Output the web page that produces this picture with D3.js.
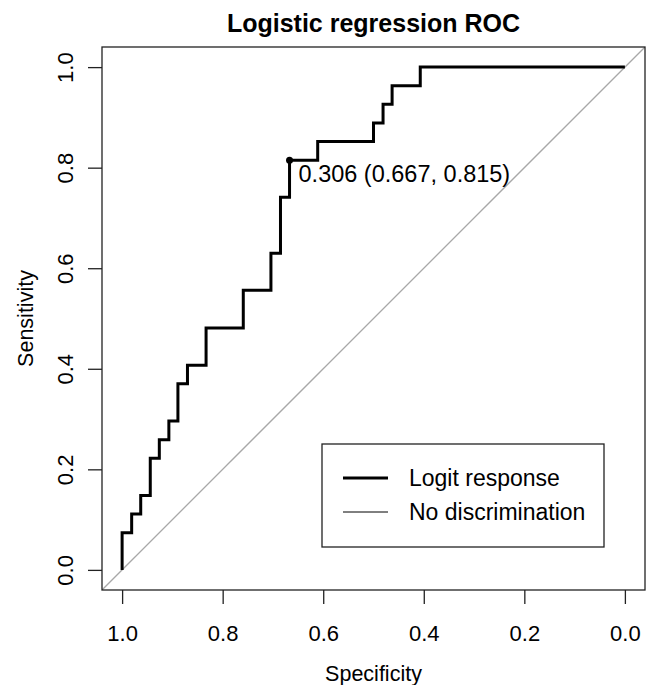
<!DOCTYPE html>
<html>
<head>
<meta charset="utf-8">
<script src="https://cdn.jsdelivr.net/npm/d3@7"></script>
<style>
  body { margin: 0; background: #fff; }
  text { font-family: "Liberation Sans", Arial, Helvetica, sans-serif; fill: #000; }
</style>
</head>
<body>
<div id="chart"></div>
<script>
// ROC step corners (specificity, sensitivity)
const specificity = [1, 1, 0.981, 0.963, 0.944, 0.926, 0.907, 0.889, 0.870, 0.833, 0.759, 0.704, 0.685, 0.667, 0.611, 0.500, 0.481, 0.463, 0.407, 0]
const sensitivity = [0, 0.074, 0.111, 0.148, 0.222, 0.259, 0.296, 0.370, 0.407, 0.481, 0.556, 0.630, 0.741, 0.815, 0.852, 0.889, 0.926, 0.963, 1.0, 1.0]

const ticks = [1.0, 0.8, 0.6, 0.4, 0.2, 0.0]
const bestPoint = {threshold: 0.306, spec: 0.667, sens: 0.815}
const legendLabels = ['Logit response', 'No discrimination']

let width = 650
let height = 685

// box drawn with R-style 4% extension
let box = {left: 102, right: 645, top: 47, bottom: 590}

let x = d3.scaleLinear()
	.domain([1.04, -0.04])
	.range([box.left, box.right])

let y = d3.scaleLinear()
	.domain([-0.04, 1.04])
	.range([box.bottom, box.top])

const svg = d3.select('#chart')
	.append('svg')
	.attr('width', width)
	.attr('height', height)

// no discrimination diagonal, clipped to the box
svg.append('clipPath')
	.attr('id', 'clip')
	.append('rect')
	.attr('x', box.left)
	.attr('y', box.top)
	.attr('width', box.right - box.left)
	.attr('height', box.bottom - box.top)

svg.append('line')
	.attr('clip-path', 'url(#clip)')
	.attr('x1', x(1.04)).attr('y1', y(-0.04))
	.attr('x2', x(-0.04)).attr('y2', y(1.04))
	.attr('stroke', '#a8a8a8')
	.attr('stroke-width', 1.3)

let rocData = specificity.map((s, i) => ({spec: s, sens: sensitivity[i]}))

let line = d3.line()
	.x(d => x(d.spec))
	.y(d => y(d.sens))
	.curve(d3.curveStepAfter)

svg.append('path')
	.datum(rocData)
	.attr('d', line)
	.attr('fill', 'none')
	.attr('stroke', '#000')
	.attr('stroke-width', 3)

svg.append('circle')
	.attr('cx', x(bestPoint.spec))
	.attr('cy', y(bestPoint.sens))
	.attr('r', 3.5)
	.attr('fill', '#000')

svg.append('text')
	.attr('x', x(bestPoint.spec) + 9)
	.attr('y', y(bestPoint.sens) + 22)
	.attr('font-size', 23.5)
	.text(bestPoint.threshold + ' (' + bestPoint.spec + ', ' + bestPoint.sens + ')')

// plot box
svg.append('rect')
	.attr('x', box.left)
	.attr('y', box.top)
	.attr('width', box.right - box.left)
	.attr('height', box.bottom - box.top)
	.attr('fill', 'none')
	.attr('stroke', '#222')
	.attr('stroke-width', 1.3)

let xAxis = g => g
	.attr('transform', `translate(0,${box.bottom})`)
	.call(d3.axisBottom(x).tickValues(ticks).tickFormat(d3.format('.1f')).tickSize(14).tickPadding(21))
	.call(g => g.select('.domain').remove())

let yAxis = g => g
	.attr('transform', `translate(${box.left},0)`)
	.call(d3.axisLeft(y).tickValues(ticks).tickFormat(d3.format('.1f')).tickSize(14))
	.call(g => g.select('.domain').remove())

let gx = svg.append('g').call(xAxis)
let gy = svg.append('g').call(yAxis)

svg.selectAll('.tick line')
	.attr('stroke', '#222')
	.attr('stroke-width', 1.3)

svg.selectAll('.tick text')
	.attr('font-family', '"Liberation Sans", Arial, sans-serif')
	.attr('font-size', 22)
	.attr('fill', '#000')

// y tick labels read upwards, like R's default las = 0
gy.selectAll('.tick text')
	.attr('transform', 'translate(-37,0) rotate(-90)')
	.attr('x', 0)
	.attr('y', 0)
	.attr('dy', '0.35em')
	.attr('text-anchor', 'middle')

svg.append('text')
	.attr('x', (box.left + box.right) / 2)
	.attr('y', 32)
	.attr('text-anchor', 'middle')
	.attr('font-weight', 'bold')
	.attr('font-size', 25)
	.text('Logistic regression ROC')

svg.append('text')
	.attr('x', (box.left + box.right) / 2)
	.attr('y', 681)
	.attr('text-anchor', 'middle')
	.attr('font-size', 21.5)
	.text('Specificity')

svg.append('text')
	.attr('transform', `translate(33,${(box.top + box.bottom) / 2}) rotate(-90)`)
	.attr('text-anchor', 'middle')
	.attr('font-size', 21.5)
	.text('Sensitivity')

// legend
let legend = svg.append('g')

legend.append('rect')
	.attr('x', 322)
	.attr('y', 444)
	.attr('width', 282)
	.attr('height', 103)
	.attr('fill', '#fff')
	.attr('stroke', '#222')
	.attr('stroke-width', 1.3)

legendLabels.forEach(function(label, i){
	
	let ly = 478 + i * 34
	
	legend.append('line')
		.attr('x1', 343)
		.attr('x2', 388)
		.attr('y1', ly)
		.attr('y2', ly)
		.attr('stroke', '#000')
		.attr('stroke-width', i == 0 ? 3 : 1)
	
	legend.append('text')
		.attr('x', 409)
		.attr('y', ly)
		.attr('dy', '0.35em')
		.attr('font-size', 23)
		.text(label)
})
</script>
</body>
</html>
